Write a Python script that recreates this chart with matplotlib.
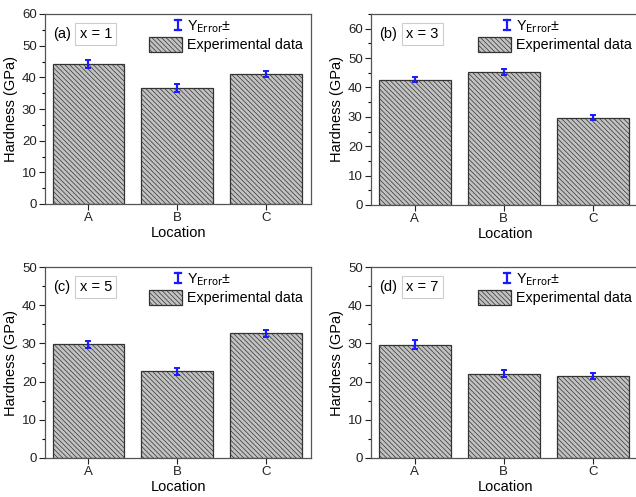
import matplotlib
matplotlib.use("Agg")
import matplotlib.pyplot as plt
from matplotlib.ticker import MultipleLocator
from matplotlib.lines import Line2D

plt.rcParams['font.family'] = ['Liberation Sans', 'DejaVu Sans']
plt.rcParams['hatch.color'] = '#858585'
plt.rcParams['hatch.linewidth'] = 0.5

locations = ['A', 'B', 'C']
panel_labels = ['(a)', '(b)', '(c)', '(d)']
x_labels = ['x = 1', 'x = 3', 'x = 5', 'x = 7']
hard_a = [44.2, 36.7, 41.1]
err_a = [1.3, 1.2, 1.0]
hard_b = [42.7, 45.3, 29.7]
err_b = [1.0, 0.9, 0.8]
hard_c = [29.8, 22.7, 32.6]
err_c = [0.9, 0.9, 1.0]
hard_d = [29.7, 22.1, 21.5]
err_d = [1.2, 0.9, 0.7]
ylims = [60, 65, 50, 50]
yticks = [[0, 10, 20, 30, 40, 50, 60], [0, 10, 20, 30, 40, 50, 60],
          [0, 10, 20, 30, 40, 50], [0, 10, 20, 30, 40, 50]]

values = [hard_a, hard_b, hard_c, hard_d]
errors = [err_a, err_b, err_c, err_d]

ERR_COLOR = '#1a1aff'


class ErrHandler:
    def legend_artist(self, legend, orig_handle, fontsize, handlebox):
        x0, y0 = handlebox.xdescent, handlebox.ydescent
        w, h = handlebox.width, handlebox.height
        cx = -x0 + w * 0.87
        yb = -y0 + h * 0.2
        yt = -y0 + h * 0.85
        cw = 2.5
        for xd, yd in (([cx, cx], [yb, yt]), ([cx - cw, cx + cw], [yb, yb]),
                       ([cx - cw, cx + cw], [yt, yt])):
            ln = Line2D(xd, yd, color=ERR_COLOR, lw=1.6,
                        transform=handlebox.get_transform())
            handlebox.add_artist(ln)
        return ln


W, H = 636, 497
fig = plt.figure(figsize=(W / 100, H / 100), dpi=100)

# pixel boxes: left, top, right, bottom
boxes = [(45, 14, 311, 204), (371, 14, 640, 205),
         (45, 267, 311, 458), (371, 267, 640, 458)]

for i in range(4):
    l, t, r, b = boxes[i]
    ax = fig.add_axes([l / W, 1 - b / H, (r - l) / W, (b - t) / H])
    xs = list(range(len(locations)))
    bars = ax.bar(xs, values[i], width=0.81, color='#c2c2c2', edgecolor='#333333',
                  linewidth=0.9, hatch='\\' * 7, label='Experimental data')
    eb = ax.errorbar(xs, values[i], yerr=errors[i], fmt='none', ecolor=ERR_COLOR,
                     elinewidth=1.6, capsize=2.5, capthick=1.4,
                     label='Y$_{\\rm Error}$±')
    xl = (-0.49, 2.51) if i % 2 == 0 else (-0.49, 2.53)
    ax.set_xlim(*xl)
    ax.set_ylim(0, ylims[i])
    ax.set_yticks(yticks[i])
    ax.yaxis.set_minor_locator(MultipleLocator(5))
    ax.set_xticks(xs)
    ax.set_xticklabels(locations)
    ax.tick_params(axis='both', labelsize=9.5, direction='out', length=4, width=0.8,
                   colors='#222222', pad=2)
    ax.tick_params(axis='y', which='minor', length=2, width=0.8)
    ax.tick_params(axis='x', which='minor', bottom=False)
    ax.set_xlabel('Location', fontsize=10.5, labelpad=1)
    ax.set_ylabel('Hardness (GPa)', fontsize=10.5, labelpad=3)
    for sp in ax.spines.values():
        sp.set_color('#555555')
        sp.set_linewidth(0.9)
    ax.text(0.03, 0.895, panel_labels[i], transform=ax.transAxes, fontsize=10.5,
            va='center', ha='left')
    ax.text(0.13, 0.895, x_labels[i], transform=ax.transAxes, fontsize=10.5,
            va='center', ha='left',
            bbox=dict(boxstyle='square,pad=0.3', fc='white', ec='#cccccc', lw=0.8))
    ax.legend(handles=[eb, bars], loc='upper right', bbox_to_anchor=(1.0, 1.025),
              frameon=False, fontsize=10.3, handlelength=2.3, handleheight=1.25,
              borderaxespad=0.2, labelspacing=0.15, handletextpad=0.3,
              handler_map={type(eb): ErrHandler()})

fig.savefig('out.png', dpi=100)
